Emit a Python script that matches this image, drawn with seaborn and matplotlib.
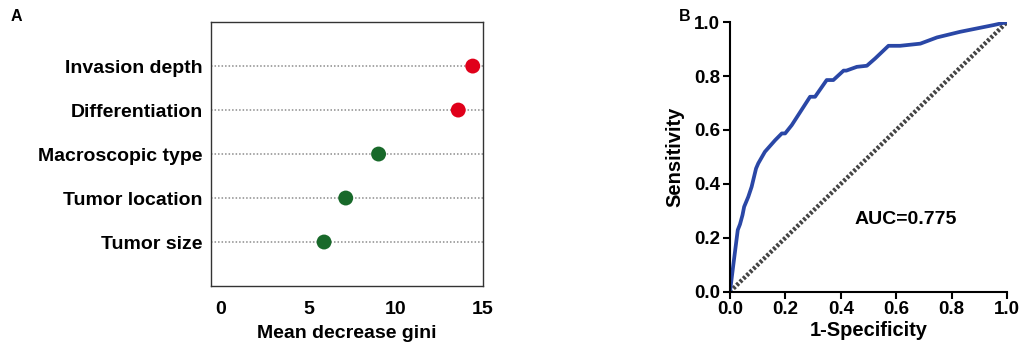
import numpy as np
import pandas as pd
import matplotlib
matplotlib.use("Agg")
import matplotlib.pyplot as plt
import seaborn as sns

# panel A data
features = ["Invasion depth", "Differentiation", "Macroscopic type", "Tumor location", "Tumor size"]
gini = [14.41, 13.58, 9.02, 7.14, 5.90]
groups = ["top", "top", "rest", "rest", "rest"]

# panel B data (ROC curve)
fpr = [0.0, 0.012, 0.028, 0.036, 0.045, 0.051, 0.066, 0.078, 0.094, 0.102, 0.126,
       0.163, 0.187, 0.199, 0.223, 0.289, 0.307, 0.349, 0.373, 0.41, 0.42, 0.458,
       0.494, 0.524, 0.572, 0.614, 0.687, 0.747, 0.831, 0.952, 1.0]
tpr = [0.0, 0.1, 0.229, 0.25, 0.284, 0.315, 0.352, 0.389, 0.457, 0.476, 0.519,
       0.562, 0.587, 0.587, 0.618, 0.723, 0.723, 0.785, 0.785, 0.82, 0.82, 0.834,
       0.838, 0.865, 0.912, 0.912, 0.92, 0.943, 0.964, 0.989, 1.0]
auc_text = "AUC=0.775"

sns.set_style("white")
plt.rcParams["font.family"] = ["Liberation Sans", "DejaVu Sans"]
plt.rcParams["font.weight"] = "bold"
plt.rcParams["text.color"] = "black"
plt.rcParams["axes.labelcolor"] = "black"
plt.rcParams["xtick.color"] = "black"
plt.rcParams["ytick.color"] = "black"

fig = plt.figure(figsize=(10.21, 3.45), dpi=100)

# ---- panel A ----
ax1 = fig.add_axes([0.2067, 0.171, 0.2664, 0.765])
df_a = pd.DataFrame({"feature": features, "gini": gini, "group": groups})
df_a["row"] = np.arange(len(features))
ax1.hlines(df_a["row"], -0.57, 15, colors="#8c8c8c", linestyles=(0, (1, 1.3)), linewidth=1.1, zorder=1)
sns.scatterplot(data=df_a, x="gini", y="row", hue="group",
                palette={"top": "#e0001a", "rest": "#18692a"},
                s=115, edgecolor="none", legend=False, ax=ax1, zorder=3)
ax1.set_xlim(-0.57, 15)
ax1.set_ylim(len(features), -1)
ax1.set_yticks(df_a["row"])
ax1.set_yticklabels(features, fontsize=14, fontweight="bold")
ax1.tick_params(axis="y", length=0, pad=6)
ax1.set_xticks([0, 5, 10, 15])
ax1.set_xticklabels(["0", "5", "10", "15"], fontsize=14, fontweight="bold")
ax1.tick_params(axis="x", length=6.5, width=1, color="#333333", pad=4)
ax1.set_xlabel("Mean decrease gini", fontsize=14, fontweight="bold", labelpad=5)
ax1.set_ylabel("")
for sp in ax1.spines.values():
    sp.set_visible(True)
    sp.set_color("#333333")
    sp.set_linewidth(1.0)

# ---- panel B ----
ax2 = fig.add_axes([0.715, 0.1545, 0.2713, 0.7815])
df_b = pd.DataFrame({"fpr": fpr, "tpr": tpr})
sns.lineplot(x=[0, 1], y=[0, 1], color="#444444", linewidth=3.2,
             linestyle=(0, (0.6, 0.45)), ax=ax2)
sns.lineplot(data=df_b, x="fpr", y="tpr", sort=False, estimator=None,
             color="#2a47a6", linewidth=2.7, ax=ax2)
ax2.set_xlim(0, 1)
ax2.set_ylim(0, 1)
ticks = [0.0, 0.2, 0.4, 0.6, 0.8, 1.0]
ax2.set_xticks(ticks)
ax2.set_yticks(ticks)
ax2.set_xticklabels([f"{t:.1f}" for t in ticks], fontsize=13.5, fontweight="bold")
ax2.set_yticklabels([f"{t:.1f}" for t in ticks], fontsize=13.5, fontweight="bold")
ax2.tick_params(length=5, width=1.5, color="black", pad=2, direction="out")
ax2.tick_params(axis="x", bottom=True)
ax2.tick_params(axis="y", left=True)
ax2.set_xlabel("1-Specificity", fontsize=14.5, fontweight="bold", labelpad=2)
ax2.set_ylabel("Sensitivity", fontsize=14.5, fontweight="bold", labelpad=7)
sns.despine(ax=ax2)
for sp in ["left", "bottom"]:
    ax2.spines[sp].set_linewidth(1.5)
    ax2.spines[sp].set_color("black")
ax2.text(0.45, 0.25, auc_text, fontsize=14, fontweight="bold", transform=ax2.transAxes)

fig.text(0.01, 0.94, "A", fontsize=11.5, fontweight="bold")
fig.text(0.665, 0.94, "B", fontsize=11.5, fontweight="bold")

fig.savefig("out.png", dpi=100)
